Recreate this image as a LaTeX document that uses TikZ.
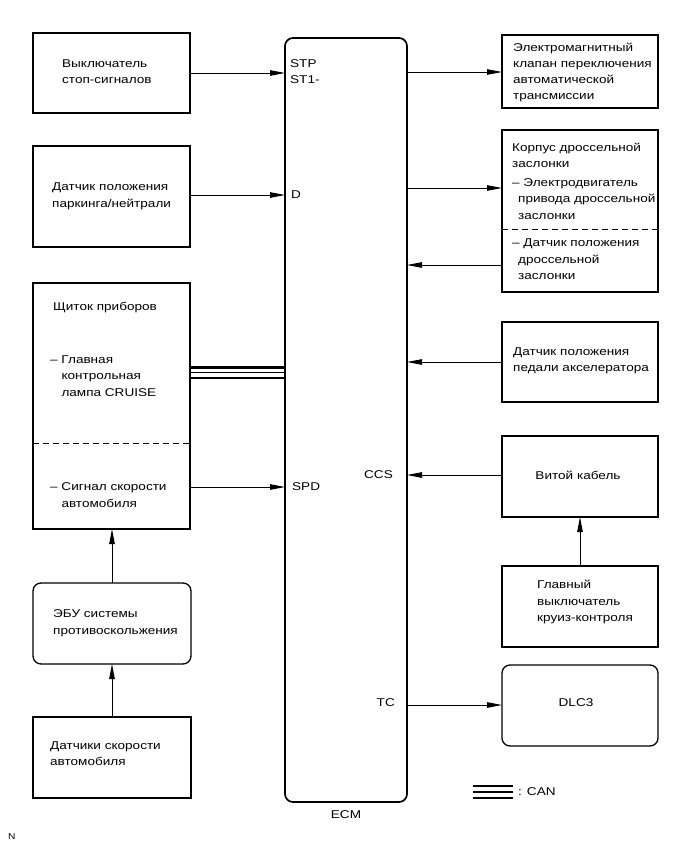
\documentclass[tikz,border=0pt]{standalone}
\usepackage{fontspec}
\setmainfont{Liberation Sans}[FakeStretch=1.2]
\usetikzlibrary{arrows.meta,calc}
\begin{document}
\begin{tikzpicture}[x=1pt,y=-1pt,
  box/.style={draw,line width=1.3pt,inner sep=0pt,outer sep=0pt,minimum width=157pt},
  rbox/.style={box,rounded corners=8pt},
  txt/.style={inner sep=0pt,anchor=west,align=left,font=\fontsize{11.3}{16.5}\selectfont},
  ctxt/.style={inner sep=0pt,anchor=center,align=center,font=\fontsize{11.3}{16.5}\selectfont},
  arr/.style={line width=0.9pt,-{Triangle[length=15pt,width=5.5pt]}},
  cant/.style={line width=2.4pt},
  canm/.style={line width=1.2pt},
  dsh/.style={line width=1pt,dash pattern=on 6pt off 4pt}]
\useasboundingbox (0,0) rectangle (690,855);

% left column
\node[box,minimum height=80pt] (b1) at (111.5,73) {};
\node[box,minimum height=101pt] (b2) at (111.5,196.5) {};
\node[box,minimum height=246pt] (b3) at (111.5,406) {};
\node[rbox,minimum width=158pt,minimum height=81pt] (b4) at (112,623.5) {};
\node[box,minimum width=158pt,minimum height=81pt] (b5) at (112,757.5) {};

% ECM
\node[draw,line width=1.7pt,rounded corners=8pt,minimum width=122pt,minimum height=764pt,inner sep=0pt,outer sep=0pt] (ecm) at (346,420) {};

% right column
\node[box,minimum width=156pt,minimum height=73pt] (r1) at (580,71.5) {};
\node[box,minimum width=156pt,minimum height=162pt] (r2) at (580,211) {};
\node[box,minimum width=156pt,minimum height=80pt] (r3) at (580,362) {};
\node[box,minimum width=156pt,minimum height=81pt] (r4) at (580,476.5) {};
\node[box,minimum width=156pt,minimum height=81pt] (r5) at (580,606.5) {};
\node[rbox,minimum width=156pt,minimum height=81pt] (dlc) at (580,705.5) {};

% dashed separators
\draw[dsh] (b3.west |- 0,443) -- (b3.east |- 0,443);
\draw[dsh] (r2.west |- 0,229) -- (r2.east |- 0,229);

% texts
\node[txt] (t1) at (62,71.5) {Выключатель\\стоп-сигналов};
\node[txt] (t2) at (52,196.5) {Датчик положения\\паркинга/нейтрали};
\node[txt] (t3a) at (53,308) {Щиток приборов};
\node[txt] (t3b) at (50,376) {– Главная\\\hphantom{– }контрольная\\\hphantom{– }лампа CRUISE};
\node[txt] (t3c) at (50,495) {– Сигнал скорости\\\hphantom{– }автомобиля};
\node[txt] (t4) at (53,623) {ЭБУ системы\\противоскольжения};
\node[txt] (t5) at (50,753.5) {Датчики скорости\\автомобиля};

\node[txt,font=\fontsize{11.3}{15.7}\selectfont] (tr1) at (513,72.5) {Электромагнитный\\клапан переключения\\автоматической\\трансмиссии};
\node[txt,font=\fontsize{11.3}{15.5}\selectfont] (tr2a) at (512,155.5) {Корпус дроссельной\\заслонки};
\node[txt] (tr2b) at (512,199) {– Электродвигатель\\\hspace*{6pt}привода дроссельной\\\hspace*{6pt}заслонки};
\node[txt] (tr2c) at (512,259.5) {– Датчик положения\\\hspace*{6pt}дроссельной\\\hspace*{6pt}заслонки};
\node[txt] (tr3) at (513,361) {Датчик положения\\педали акселератора};
\node[ctxt] (tr4) at (578,475) {Витой кабель};
\node[txt] (tr5) at (537,602) {Главный\\выключатель\\круиз-контроля};
\node[ctxt] (tdlc) at (576,703) {DLC3};

% ECM pin labels
\node[txt] (lstp) at (290,71.5) {STP\\ST1-};
\node[txt] (ld) at (291,195) {D};
\node[txt] (lspd) at (292,487) {SPD};
\node[txt,anchor=east] (lccs) at (393,475) {CCS};
\node[txt,anchor=east] (ltc) at (395,703) {TC};
\node[ctxt] (lecm) at (346,815) {ECM};
\node[txt,font=\fontsize{8.5}{10}\selectfont] (ln) at (8,837) {N};

% connectors
\draw[arr] (b1.east) -- (b1.east -| ecm.west);
\draw[arr] (b2.east |- 0,195) -- (ecm.west |- 0,195);
\draw[arr] (b3.east |- 0,487) -- (ecm.west |- 0,487);
\draw[arr] (b4.north) -- (b4.north |- b3.south);
\draw[arr] (b5.north) -- (b4.south);
\draw[arr] (ecm.east |- 0,72) -- (r1.west |- 0,72);
\draw[arr] (ecm.east |- 0,188) -- (r2.west |- 0,188);
\draw[arr] (r2.west |- 0,265) -- (ecm.east |- 0,265);
\draw[arr] (r3.west) -- (r3.west -| ecm.east);
\draw[arr] (r4.west |- 0,475) -- (ecm.east |- 0,475);
\draw[arr] (r5.north) -- (r4.south);
\draw[arr] (ecm.east |- 0,705) -- (dlc.west |- 0,705);

% CAN bus
\draw[cant] (b3.east |- 0,367.3) -- (ecm.west |- 0,367.3);
\draw[canm] (b3.east |- 0,372.5) -- (ecm.west |- 0,372.5);
\draw[cant] (b3.east |- 0,377.7) -- (ecm.west |- 0,377.7);

% legend
\coordinate (lg1) at (473,786);
\coordinate (lg2) at (513,786);
\draw[cant] (lg1) -- (lg2);
\draw[canm] ($(lg1)+(0,6)$) -- ($(lg2)+(0,6)$);
\draw[cant] ($(lg1)+(0,12)$) -- ($(lg2)+(0,12)$);
\node[txt] (lcan) at (518,792) {: CAN};
\end{tikzpicture}
\end{document}
